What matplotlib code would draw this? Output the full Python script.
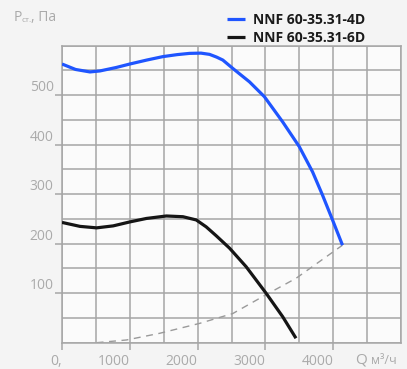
import matplotlib
matplotlib.use("Agg")
import matplotlib.pyplot as plt
from matplotlib.ticker import MultipleLocator, FixedLocator

# ---- data ----
q_4d = [0, 200, 412, 559, 800, 1000, 1250, 1490, 1700, 1882, 2050, 2176, 2280, 2372, 2520, 2765, 2985, 3255, 3500, 3696, 3843, 3990, 4137]
p_4d = [563, 552, 547, 549, 556, 563, 571, 578, 582, 584.5, 585, 582.5, 577, 571, 554, 527, 497, 446, 396, 345, 298, 248, 197]

q_6d = [0, 265, 510, 755, 1000, 1245, 1539, 1784, 1980, 2127, 2275, 2471, 2716, 3010, 3255, 3451]
p_6d = [243, 235, 232, 236, 244, 251, 256, 254.5, 248, 234, 216, 191, 153.5, 100, 52.5, 9]

q_sys = [510, 951, 1441, 2029, 2520, 3010, 3451, 4137]
p_sys = [0, 5.5, 19, 39, 59, 97, 130, 197]

x_ticks = [0, 1000, 2000, 3000, 4000]
x_labels = ["0,", "1000", "2000", "3000", "4000"]
y_ticks = [100, 200, 300, 400, 500]
y_labels = ["100", "200", "300", "400", "500"]
series_names = ["NNF 60-35.31-4D", "NNF 60-35.31-6D"]

W, H = 407, 369
fig = plt.figure(figsize=(W / 100, H / 100), dpi=100)
fig.patch.set_facecolor("#f4f4f4")
ax = fig.add_axes([62 / W, 1 - 342.7 / H, (401 - 62) / W, (342.7 - 45.7) / H])
ax.set_facecolor("#fbfbfb")

grid_c = "#a6a6a6"
txt_c = "#aaaaaa"
font = "Open Sans"

ax.set_xlim(0, 5000)
ax.set_ylim(0, 600)
ax.xaxis.set_major_locator(FixedLocator(x_ticks))
ax.xaxis.set_minor_locator(MultipleLocator(500))
ax.yaxis.set_major_locator(FixedLocator(y_ticks))
ax.yaxis.set_minor_locator(MultipleLocator(50))
ax.grid(True, which="both", color=grid_c, linewidth=1.1, zorder=0)
ax.set_axisbelow(True)
for s in ax.spines.values():
    s.set_color(grid_c)
    s.set_linewidth(1.1)
ax.tick_params(which="major", length=5, width=1.1, color=grid_c, direction="out")
ax.tick_params(which="minor", length=0)
ax.set_xticklabels(x_labels, fontsize=10, color=txt_c, family=font)
ax.set_yticklabels(y_labels, fontsize=10, color=txt_c, family=font)
for lab in ax.get_xticklabels():
    lab.set_horizontalalignment("right")
for lab in ax.get_yticklabels():
    lab.set_verticalalignment("bottom")
ax.tick_params(axis="x", pad=3)
ax.tick_params(axis="y", pad=1)

l1, = ax.plot(q_4d, p_4d, color="#1f55ff", lw=2.3, solid_joinstyle="round", solid_capstyle="butt", zorder=3)
l2, = ax.plot(q_6d, p_6d, color="#151515", lw=2.3, solid_joinstyle="round", solid_capstyle="butt", zorder=3)
ax.plot(q_sys, p_sys, color="#9a9a9a", lw=1.0, dashes=(5, 4), zorder=2)

ax.legend([l1, l2], series_names, loc="upper left", bbox_to_anchor=(220 / W, 1 - 6 / H),
          bbox_transform=fig.transFigure, frameon=False, borderpad=0, handlelength=1.3,
          handletextpad=0.55, labelspacing=0.3,
          prop={"family": font, "weight": "bold", "size": 10}, labelcolor="#1a1a1a")

# axis titles
fig.text(14 / W, 1 - 21 / H, "P", fontsize=10, color=txt_c, family=font, va="baseline")
fig.text(22 / W, 1 - 22 / H, "ст.", fontsize=6, color=txt_c, family=font, va="baseline")
fig.text(31 / W, 1 - 21 / H, ", Па", fontsize=10, color=txt_c, family=font, va="baseline")
fig.text(355 / W, 1 - 364 / H, "Q", fontsize=11, color=txt_c, family=font, va="baseline")
fig.text(371 / W, 1 - 364 / H, "м³/ч", fontsize=9, color=txt_c, family=font, va="baseline")

fig.savefig("out.png", dpi=100, facecolor=fig.get_facecolor())
